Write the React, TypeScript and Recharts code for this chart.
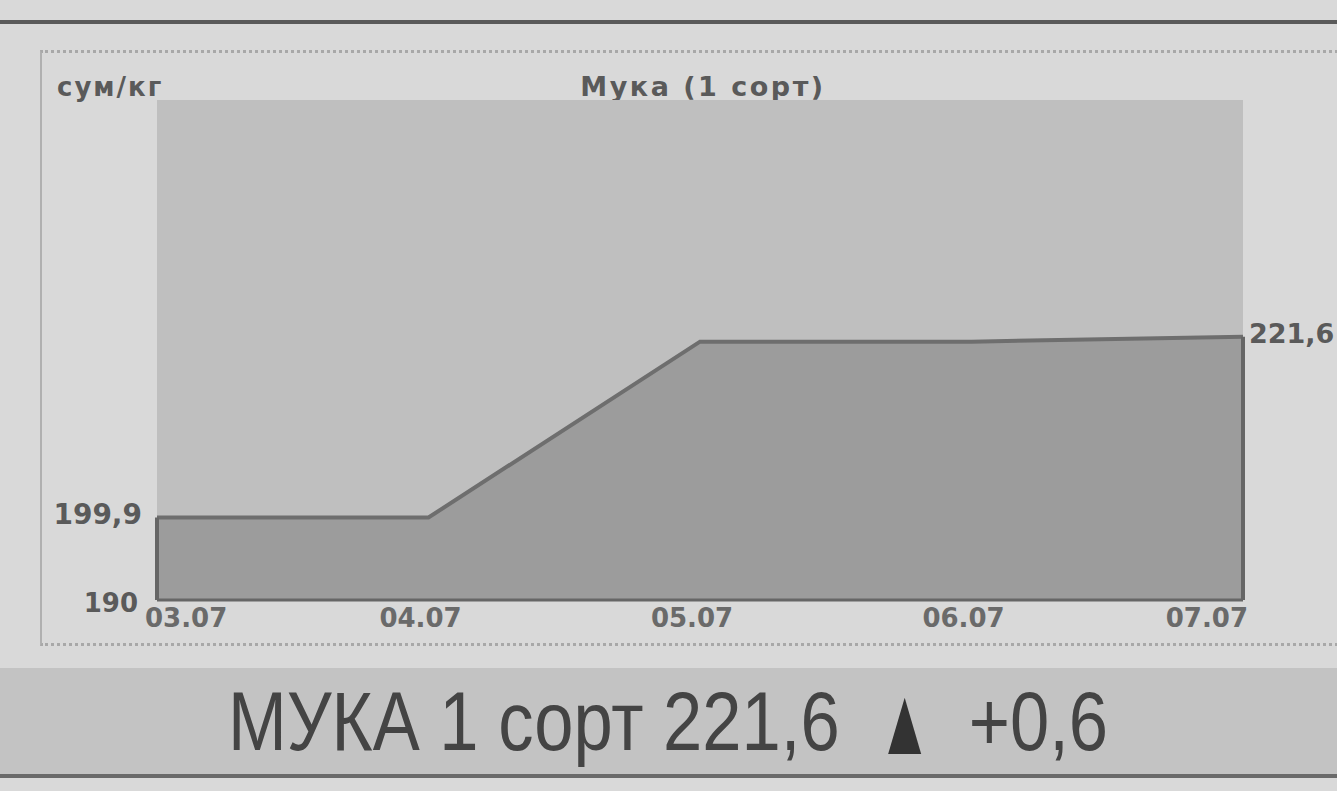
import React from "react";
import {
  AreaChart,
  Area,
  XAxis,
  YAxis,
  CartesianGrid,
  ReferenceLine,
} from "recharts";

const dates = ["03.07", "04.07", "05.07", "06.07", "07.07"];
const prices = [199.9, 199.9, 221.0, 221.0, 221.6];
const leftTicks = [190, 199.9];
const rightTicks = [221.6];
const yDomain = [190, 250];

const data = dates.map((date, i) => ({ date, price: prices[i] }));

const fmt = (v: number) => String(v).replace(".", ",");

const labelFont = "'DejaVu Sans', Verdana, sans-serif";

function DateTick(props: any) {
  const { x, y, payload, index } = props;
  const last = index === dates.length - 1;
  const first = index === 0;
  const anchor = first ? "start" : last ? "end" : "middle";
  const dx = first ? -12 : last ? 5 : -8;
  return (
    <text
      x={x + dx}
      y={y + 19}
      textAnchor={anchor}
      fontFamily={labelFont}
      fontWeight="bold"
      fontSize={26}
      fill="#6a6a6a"
    >
      {payload.value}
    </text>
  );
}

function LeftTick(props: any) {
  const { x, y, payload } = props;
  const isMin = payload.value === yDomain[0];
  return (
    <text
      x={isMin ? x - 11 : x - 7}
      y={isMin ? y + 12 : y + 6}
      textAnchor="end"
      fontFamily={labelFont}
      fontWeight="bold"
      fontSize={isMin ? 26 : 28}
      fill="#5a5a5a"
    >
      {fmt(payload.value)}
    </text>
  );
}

function RightTick(props: any) {
  const { x, y, payload } = props;
  return (
    <text
      x={x - 2}
      y={y + 6}
      textAnchor="start"
      fontFamily={labelFont}
      fontWeight="bold"
      fontSize={27}
      fill="#5a5a5a"
    >
      {fmt(payload.value)}
    </text>
  );
}

export default function App() {
  const first = dates[0];
  const last = dates[dates.length - 1];
  return (
    <div
      style={{
        position: "absolute",
        left: 0,
        top: 0,
        width: 1337,
        height: 791,
        background: "#d9d9d9",
        overflow: "hidden",
      }}
    >
      {/* top rule */}
      <div
        style={{
          position: "absolute",
          left: 0,
          top: 20,
          width: 1337,
          height: 4,
          background: "#5a5a5a",
        }}
      />
      {/* dotted frame */}
      <div
        style={{
          position: "absolute",
          left: 40,
          top: 50,
          width: 1320,
          height: 590,
          borderTop: "3px dotted #a8a8a8",
          borderLeft: "2px solid #b0b0b0",
          borderBottom: "3px dotted #a8a8a8",
        }}
      />
      <div
        style={{
          position: "absolute",
          left: 57,
          top: 72,
          fontFamily: labelFont,
          fontWeight: "bold",
          fontSize: 26,
          letterSpacing: 2,
          color: "#5a5a5a",
        }}
      >
        сум/кг
      </div>
      <div
        style={{
          position: "absolute",
          left: 157,
          width: 1092,
          top: 71,
          textAlign: "center",
          fontFamily: labelFont,
          fontWeight: "bold",
          fontSize: 27,
          letterSpacing: 2.5,
          color: "#5a5a5a",
        }}
      >
        Мука (1 сорт)
      </div>
      <div style={{ position: "absolute", left: 0, top: 0 }}>
        <AreaChart
          width={1337}
          height={660}
          data={data}
          margin={{ top: 100, right: 0, left: 57, bottom: 0 }}
        >
          <CartesianGrid
            horizontal={false}
            vertical={false}
            fill="#bfbfbf"
            yAxisId="left"
          />
          <XAxis
            dataKey="date"
            axisLine={{ stroke: "#666", strokeWidth: 3 }}
            tickLine={false}
            tick={<DateTick />}
            height={60}
            interval={0}
          />
          <YAxis
            yAxisId="left"
            width={100}
            domain={yDomain}
            ticks={leftTicks}
            allowDataOverflow
            axisLine={false}
            tickLine={false}
            tick={<LeftTick />}
          />
          <YAxis
            yAxisId="right"
            orientation="right"
            width={94}
            domain={yDomain}
            ticks={rightTicks}
            allowDataOverflow
            axisLine={false}
            tickLine={false}
            tick={<RightTick />}
          />
          <Area
            yAxisId="left"
            type="linear"
            dataKey="price"
            stroke="#6e6e6e"
            strokeWidth={4}
            fill="#9c9c9c"
            fillOpacity={1}
            isAnimationActive={false}
            dot={false}
            activeDot={false}
          />
          <ReferenceLine
            yAxisId="left"
            segment={[
              { x: first, y: yDomain[0] },
              { x: first, y: prices[0] },
            ]}
            stroke="#666"
            strokeWidth={4}
          />
          <ReferenceLine
            yAxisId="left"
            segment={[
              { x: last, y: yDomain[0] },
              { x: last, y: prices[prices.length - 1] },
            ]}
            stroke="#666"
            strokeWidth={4}
          />
        </AreaChart>
      </div>
      {/* bottom banner */}
      <div
        style={{
          position: "absolute",
          left: 0,
          top: 668,
          width: 1337,
          height: 106,
          background: "#c3c3c3",
          borderBottom: "4px solid #6a6a6a",
          overflow: "hidden",
        }}
      >
        <div
          style={{
            position: "absolute",
            left: 668,
            top: 0,
            transform: "translateX(-50%) scaleX(0.84)",
            fontFamily: "'Liberation Sans', Arial, sans-serif",
            fontSize: 84,
            lineHeight: "106px",
            color: "#444",
            whiteSpace: "nowrap",
          }}
        >
          МУКА 1 сорт 221,6{" "}
          <span
            style={{
              display: "inline-block",
              fontSize: 96,
              lineHeight: "80px",
              margin: "0 6px",
              transform: "scaleX(0.7) translateY(4px)",
              color: "#333",
            }}
          >
            ▲
          </span>{" "}
          +0,6
        </div>
      </div>
    </div>
  );
}
